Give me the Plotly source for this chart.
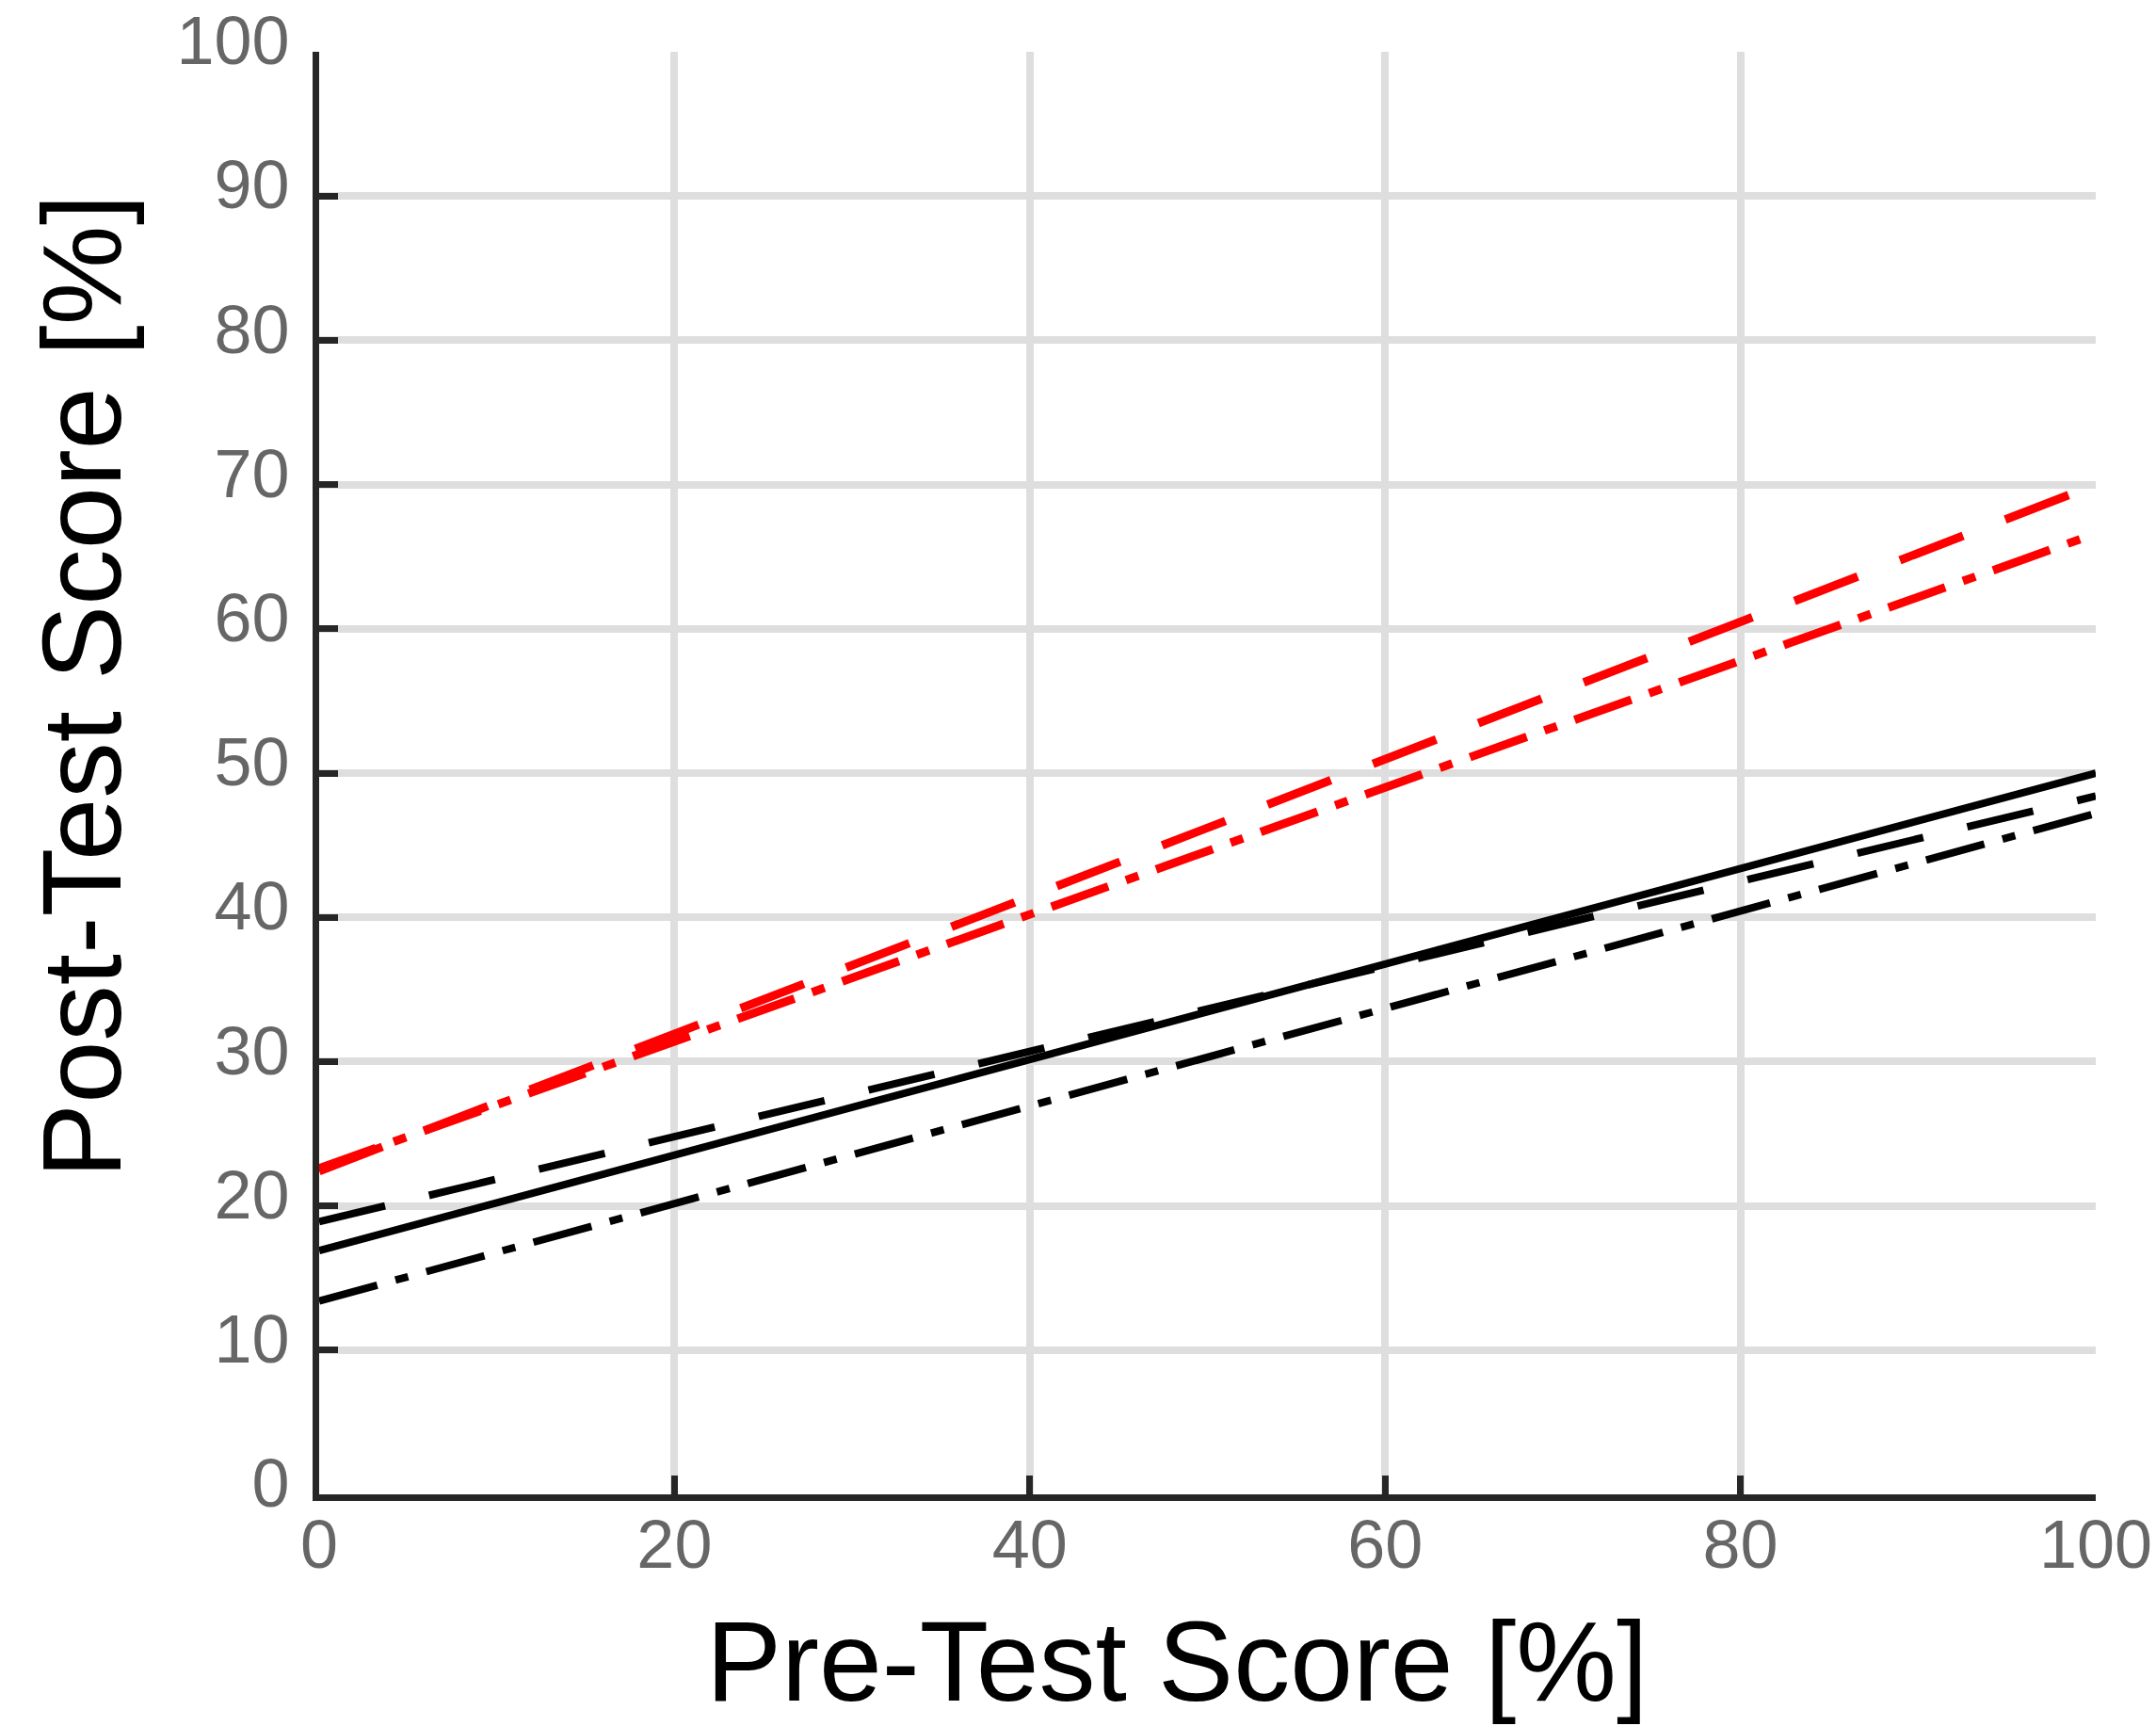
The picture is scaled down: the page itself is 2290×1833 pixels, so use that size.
import plotly.graph_objects as go

# ---- data ----
pre_test = [0, 100]
black_solid = [16.9, 50.0]
black_dashed = [18.9, 48.4]
black_dashdot = [13.4, 47.2]
red_dashed = [22.4, 70.0]
red_dashdot = [22.6, 66.6]

x_ticks = [0, 20, 40, 60, 80, 100]
y_ticks = [0, 10, 20, 30, 40, 50, 60, 70, 80, 90, 100]

x_title = "Pre-Test Score [%]"
y_title = "Post-Test Score [%]"

DASH = "72px,48px"
DASHDOT = "64px,20px,14px,20px"

fig = go.Figure()
fig.add_trace(go.Scatter(x=pre_test, y=black_dashdot, mode="lines",
                         line=dict(color="#000000", width=8, dash=DASHDOT)))
fig.add_trace(go.Scatter(x=pre_test, y=black_dashed, mode="lines",
                         line=dict(color="#000000", width=8, dash=DASH)))
fig.add_trace(go.Scatter(x=pre_test, y=black_solid, mode="lines",
                         line=dict(color="#000000", width=8)))
fig.add_trace(go.Scatter(x=pre_test, y=red_dashdot, mode="lines",
                         line=dict(color="#ff0000", width=9, dash=DASHDOT)))
fig.add_trace(go.Scatter(x=pre_test, y=red_dashed, mode="lines",
                         line=dict(color="#ff0000", width=9, dash=DASH)))

axis_common = dict(
    showgrid=True, gridcolor="#dedede", gridwidth=8,
    showline=True, linecolor="#262626", linewidth=7,
    ticks="inside", ticklen=20, tickwidth=7, tickcolor="#262626",
    tickfont=dict(family="Liberation Sans, Arial, sans-serif", size=72, color="#666666"),
    zeroline=False, mirror=False, automargin=False, ticklabeloverflow="allow",
)

fig.update_layout(
    width=2290, height=1833,
    margin=dict(l=339, r=64, t=55, b=246),
    paper_bgcolor="white", plot_bgcolor="white",
    showlegend=False,
    xaxis=dict(range=[0, 100], tickvals=x_ticks, ticklabelstandoff=-15, **axis_common),
    yaxis=dict(range=[0, 100], tickvals=y_ticks, ticklabelstandoff=10, ticklabelshift=-12,
               **axis_common),
    annotations=[
        dict(text=x_title, xref="paper", yref="paper", x=0.483, y=-0.1155,
             xanchor="center", yanchor="middle", showarrow=False,
             font=dict(family="Liberation Sans, Arial, sans-serif", size=120, color="#000000")),
        dict(text=y_title, xref="paper", yref="paper", x=-0.134, y=0.56,
             xanchor="center", yanchor="middle", showarrow=False, textangle=-90,
             font=dict(family="Liberation Sans, Arial, sans-serif", size=119, color="#000000")),
    ],
)

fig.write_html("out.html")
